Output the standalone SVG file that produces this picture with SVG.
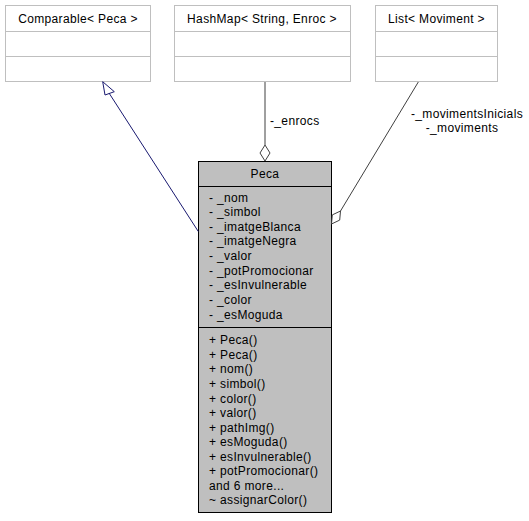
<svg xmlns="http://www.w3.org/2000/svg" width="529" height="521" viewBox="0 0 529 521">
<style>
text{font-family:"Liberation Sans",Arial,Helvetica,sans-serif;font-size:12px;letter-spacing:0.35px;fill:#000}
.c{text-anchor:middle}
.ext{fill:#fff;stroke:#bfbfbf;stroke-width:1}
.sep{stroke:#bfbfbf;stroke-width:1}
.main{fill:#bfbfbf;stroke:#000;stroke-width:1}
.msep{stroke:#000;stroke-width:1}
.inh{stroke:#191970;stroke-width:1;fill:none}
.comp{stroke:#404040;stroke-width:1;fill:none}
</style>
<rect width="529" height="521" fill="#fff"/>
<g id="node-comparable">
<rect class="ext" x="5.5" y="5.5" width="145" height="76"/>
<line class="sep" x1="5.5" y1="31.5" x2="150.5" y2="31.5"/>
<line class="sep" x1="5.5" y1="56.5" x2="150.5" y2="56.5"/>
<text class="c" x="78" y="22.5">Comparable&lt; Peca &gt;</text>
</g>
<g id="node-hashmap">
<rect class="ext" x="174.5" y="5.5" width="176" height="76"/>
<line class="sep" x1="174.5" y1="31.5" x2="350.5" y2="31.5"/>
<line class="sep" x1="174.5" y1="56.5" x2="350.5" y2="56.5"/>
<text class="c" x="262" y="22.5">HashMap&lt; String, Enroc &gt;</text>
</g>
<g id="node-list">
<rect class="ext" x="375.5" y="5.5" width="122" height="76"/>
<line class="sep" x1="375.5" y1="31.5" x2="497.5" y2="31.5"/>
<line class="sep" x1="375.5" y1="56.5" x2="497.5" y2="56.5"/>
<text class="c" x="436.5" y="22.5">List&lt; Moviment &gt;</text>
</g>
<g id="node-peca">
<rect class="main" x="198.5" y="161.5" width="133" height="351"/>
<line class="msep" x1="198.5" y1="186.5" x2="331.5" y2="186.5"/>
<line class="msep" x1="198.5" y1="327.5" x2="331.5" y2="327.5"/>
<text class="c" x="265" y="177.5">Peca</text>
<text x="209" y="201.5">- _nom</text>
<text x="209" y="216.1">- _simbol</text>
<text x="209" y="230.7">- _imatgeBlanca</text>
<text x="209" y="245.4">- _imatgeNegra</text>
<text x="209" y="260">- _valor</text>
<text x="209" y="274.6">- _potPromocionar</text>
<text x="209" y="289.2">- _esInvulnerable</text>
<text x="209" y="303.9">- _color</text>
<text x="209" y="318.5">- _esMoguda</text>
<text x="209" y="344.3">+ Peca()</text>
<text x="209" y="358.9">+ Peca()</text>
<text x="209" y="373.4">+ nom()</text>
<text x="209" y="388">+ simbol()</text>
<text x="209" y="402.5">+ color()</text>
<text x="209" y="417.1">+ valor()</text>
<text x="209" y="431.6">+ pathImg()</text>
<text x="209" y="446.2">+ esMoguda()</text>
<text x="209" y="460.7">+ esInvulnerable()</text>
<text x="209" y="475.3">+ potPromocionar()</text>
<text x="209" y="489.8">and 6 more...</text>
<text x="209" y="504.4">~ assignarColor()</text>
</g>
<g id="connectors">
<line class="inh" x1="198.3" y1="231.5" x2="109" y2="93"/>
<polygon class="inh" fill="#fff" points="102.7,81.7 114.3,91.7 105,95"/>
<line class="comp" x1="265" y1="82" x2="265" y2="145"/>
<polygon class="comp" fill="#fff" points="265,161 260,153 265,145 270,153"/>
<text x="270" y="124.5">-_enrocs</text>
<line class="comp" x1="418.3" y1="82" x2="340.5" y2="211"/>
<polygon class="comp" fill="#fff" points="331.5,224 332.3,214.9 340.5,211 339.7,220.1"/>
<text class="c" x="467" y="117.5">-_movimentsInicials</text>
<text class="c" x="462" y="132">-_moviments</text>
</g>
</svg>
